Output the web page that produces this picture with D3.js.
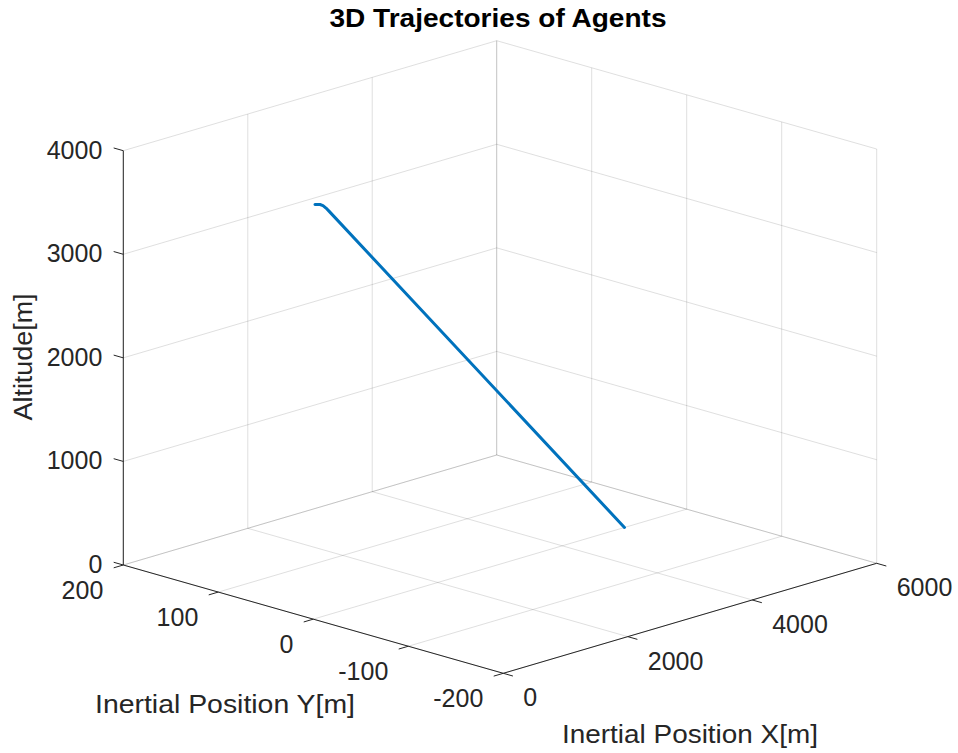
<!DOCTYPE html>
<html>
<head>
<meta charset="utf-8">
<script src="https://cdn.jsdelivr.net/npm/d3@7"></script>
<style>
  body { margin: 0; background: #fff; }
  text { font-family: "Liberation Sans", Arial, sans-serif; fill: #262626; }
</style>
</head>
<body>
<div class="chart"></div>
<script>
// ======= 3D TRAJECTORY (MATLAB-ish box view) ===========

const xTicks = [0, 2000, 4000, 6000]
const yTicks = [-200, -100, 0, 100, 200]
const zTicks = [0, 1000, 2000, 3000, 4000]

// agent trajectory (x, y, z in metres)
const trajX = [27, 108, 156, 204, 252, 5000]
const trajY = [0, 0, 0, 0, 0, 0]
const trajZ = [3998, 3984, 3965, 3933, 3895, 0]

const width = 958
const height = 753

// screen position of the box corner (x=0, y=-200, z=0) and the three box edges
const origin = [503.3, 673.3]
const ex = [373.4, -110]
const ey = [-380, -108.3]
const ez = [0, -414.3]

const xScale = d3.scaleLinear().domain([0, 6000]).range([0, 1])
const yScale = d3.scaleLinear().domain([-200, 200]).range([0, 1])
const zScale = d3.scaleLinear().domain([0, 4000]).range([0, 1])

const proj = (x, y, z) => {
  const a = xScale(x), b = yScale(y), c = zScale(z)
  return [
    origin[0] + a * ex[0] + b * ey[0] + c * ez[0],
    origin[1] + a * ex[1] + b * ey[1] + c * ez[1]
  ]
}
const unit = v => { const l = Math.hypot(v[0], v[1]); return [v[0] / l, v[1] / l] }

const svg = d3.select('.chart')
  .append('svg')
    .attr('width', width)
    .attr('height', height)

const seg = (g, p, q, cls) => g.append('line')
  .attr('class', cls)
  .attr('x1', p[0]).attr('y1', p[1])
  .attr('x2', q[0]).attr('y2', q[1])

// grid on floor and the two back walls
const grid = svg.append('g')
  .attr('stroke', '#262626')
  .attr('stroke-opacity', 0.15)
  .attr('stroke-width', 1)

xTicks.forEach(x => {
  seg(grid, proj(x, -200, 0), proj(x, 200, 0))
  seg(grid, proj(x, 200, 0), proj(x, 200, 4000))
})
yTicks.forEach(y => {
  seg(grid, proj(0, y, 0), proj(6000, y, 0))
  seg(grid, proj(6000, y, 0), proj(6000, y, 4000))
})
zTicks.forEach(z => {
  seg(grid, proj(0, 200, z), proj(6000, 200, z))
  seg(grid, proj(6000, -200, z), proj(6000, 200, z))
})

// axis lines + ticks
const axes = svg.append('g')
  .attr('stroke', '#262626')
  .attr('stroke-width', 1)

seg(axes, proj(0, -200, 0), proj(6000, -200, 0))
seg(axes, proj(0, -200, 0), proj(0, 200, 0))
seg(axes, proj(0, 200, 0), proj(0, 200, 4000))

const tickLen = 10
const dirX = unit([-ey[0], -ey[1]])  // x ticks point towards -y
const dirY = unit([-ex[0], -ex[1]])  // y ticks point towards -x
const dirZ = unit(ey)                // z ticks point towards +y

xTicks.forEach(x => {
  const p = proj(x, -200, 0)
  seg(axes, p, [p[0] + dirX[0] * tickLen, p[1] + dirX[1] * tickLen])
})
yTicks.forEach(y => {
  const p = proj(0, y, 0)
  seg(axes, p, [p[0] + dirY[0] * tickLen, p[1] + dirY[1] * tickLen])
})
zTicks.forEach(z => {
  const p = proj(0, 200, z)
  seg(axes, p, [p[0] + dirZ[0] * tickLen, p[1] + dirZ[1] * tickLen])
})

// trajectory
const line = d3.line()
  .x(d => proj(d[0], d[1], d[2])[0])
  .y(d => proj(d[0], d[1], d[2])[1])

svg.append('path')
  .datum(trajX.map((x, i) => [x, trajY[i], trajZ[i]]))
  .attr('d', line)
  .attr('fill', 'none')
  .attr('stroke', '#0072BD')
  .attr('stroke-width', 3)
  .attr('stroke-linejoin', 'round')
  .attr('stroke-linecap', 'round')

// tick labels
const labels = svg.append('g').style('font-size', '25px')

xTicks.forEach(x => {
  const p = proj(x, -200, 0)
  labels.append('text')
    .attr('x', p[0] + 20).attr('y', p[1] + 24)
    .attr('dominant-baseline', 'central')
    .text(x)
})
yTicks.forEach(y => {
  const p = proj(0, y, 0)
  labels.append('text')
    .attr('x', p[0] - 20).attr('y', p[1] + 25)
    .attr('text-anchor', 'end')
    .attr('dominant-baseline', 'central')
    .text(y)
})
zTicks.forEach(z => {
  const p = proj(0, 200, z)
  labels.append('text')
    .attr('x', p[0] - 21).attr('y', p[1] - 1)
    .attr('text-anchor', 'end')
    .attr('dominant-baseline', 'central')
    .text(z)
})

// axis titles
svg.append('text')
  .attr('x', 498).attr('y', 27)
  .attr('text-anchor', 'middle')
  .style('font-size', '26px')
  .style('font-weight', 'bold')
  .style('fill', '#000')
  .attr('textLength', 337)
  .attr('lengthAdjust', 'spacingAndGlyphs')
  .text('3D Trajectories of Agents')

svg.append('text')
  .attr('x', 225).attr('y', 713)
  .attr('text-anchor', 'middle')
  .style('font-size', '26px')
  .attr('textLength', 260)
  .attr('lengthAdjust', 'spacingAndGlyphs')
  .text('Inertial Position Y[m]')

svg.append('text')
  .attr('x', 690).attr('y', 743)
  .attr('text-anchor', 'middle')
  .style('font-size', '26px')
  .attr('textLength', 256)
  .attr('lengthAdjust', 'spacingAndGlyphs')
  .text('Inertial Position X[m]')

svg.append('text')
  .attr('transform', 'translate(32, 357) rotate(-90)')
  .attr('text-anchor', 'middle')
  .style('font-size', '26px')
  .attr('textLength', 127)
  .attr('lengthAdjust', 'spacingAndGlyphs')
  .text('Altitude[m]')
</script>
</body>
</html>
